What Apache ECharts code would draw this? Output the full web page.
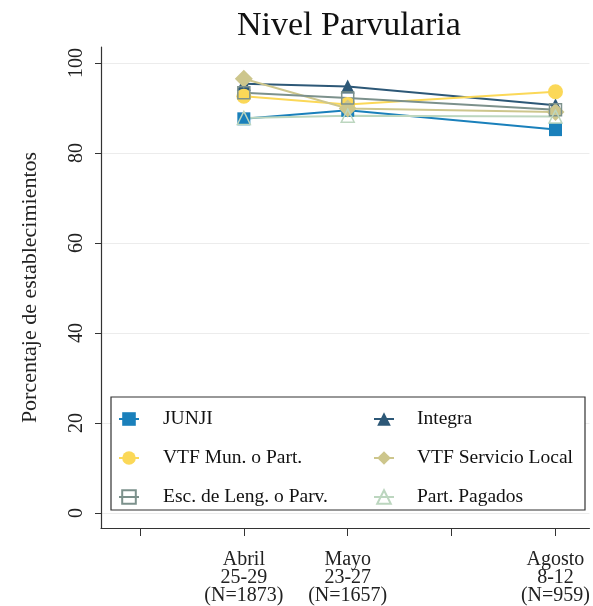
<!DOCTYPE html>
<html>
<head>
<meta charset="utf-8">
<script src="https://cdn.jsdelivr.net/npm/echarts@6/dist/echarts.min.js"></script>
<style>
  html, body { margin: 0; padding: 0; background: #fff; }
  #chart { width: 593px; height: 606px; }
</style>
</head>
<body>
<div id="chart"></div>
<script>
// posiciones de las rondas en el eje x
const waves = [1, 2, 4];
const waveLabels = ["Abril\n25-29\n(N=1873)", "Mayo\n23-27\n(N=1657)", "Agosto\n8-12\n(N=959)"];
const xTicks = [0, 1, 2, 3, 4];
const yTicks = [0, 20, 40, 60, 80, 100];

// porcentaje de establecimientos por dependencia
const junji = [87.6, 89.5, 85.2];
const integra = [95.4, 94.8, 90.6];
const vtfMun = [92.6, 90.8, 93.6];
const vtfServicio = [96.5, 89.9, 89.1];
const escLeng = [93.4, 92.2, 89.6];
const partPagados = [87.8, 88.3, 88.1];

const font = "Liberation Serif";
const chart = echarts.init(document.getElementById("chart"));

const pairs = vals => vals.map((v, i) => [waves[i], v]);

const makeSeries = (name, vals, color, symbol, size, hollow) => ({
  name: name,
  type: "line",
  data: pairs(vals),
  symbol: symbol,
  symbolSize: size,
  lineStyle: { color: color, width: 2 },
  itemStyle: hollow
    ? { color: "rgba(255,255,255,0)", borderColor: color, borderWidth: 1.5 }
    : { color: color },
  emphasis: { disabled: true }
});

const legendText = pad => ({
  fontFamily: font, fontSize: 19.5, color: "#111", lineHeight: 22, padding: [0, 0, 0, pad]
});

const option = {
  animation: false,
  title: {
    text: "Nivel Parvularia",
    left: 232,
    top: 4,
    textStyle: { fontFamily: font, fontSize: 34, fontWeight: "normal", color: "#111" }
  },
  grid: { left: 101, right: 3, top: 47, bottom: 78 },
  xAxis: {
    type: "value",
    min: -0.375,
    max: 4.327,
    axisLine: { show: true, onZero: false, lineStyle: { color: "#333", width: 1.2 } },
    axisTick: { show: true, customValues: xTicks, length: 8, lineStyle: { color: "#333" } },
    axisLabel: {
      customValues: waves,
      margin: 23,
      fontFamily: font,
      fontSize: 20,
      lineHeight: 18,
      color: "#222",
      formatter: v => waveLabels[waves.indexOf(v)]
    },
    splitLine: { show: false }
  },
  yAxis: {
    type: "value",
    min: -3.33,
    max: 103.56,
    name: "Porcentaje de establecimientos",
    nameLocation: "middle",
    nameGap: 60,
    nameTextStyle: { fontFamily: font, fontSize: 22, color: "#222" },
    axisLine: { show: true, onZero: false, lineStyle: { color: "#333", width: 1.2 } },
    axisTick: { show: true, customValues: yTicks, length: 6, lineStyle: { color: "#333" } },
    axisLabel: {
      customValues: yTicks,
      rotate: 90,
      margin: 14,
      fontFamily: font,
      fontSize: 20,
      color: "#222"
    },
    splitLine: { show: true, lineStyle: { color: "#ececec", width: 1 } }
  },
  legend: [
    {
      orient: "vertical",
      left: 118,
      top: 408,
      padding: 0,
      itemWidth: 20,
      itemHeight: 17,
      itemGap: 17,
      data: ["JUNJI", "VTF Mun. o Part.", "Esc. de Leng. o Parv."],
      textStyle: legendText(19)
    },
    {
      orient: "vertical",
      left: 373,
      top: 408,
      padding: 0,
      itemWidth: 20,
      itemHeight: 17,
      itemGap: 17,
      data: ["Integra", "VTF Servicio Local", "Part. Pagados"],
      textStyle: legendText(18)
    }
  ],
  graphic: [
    {
      type: "rect",
      shape: { x: 111, y: 397, width: 474, height: 113 },
      style: { fill: "#fff", stroke: "#333", lineWidth: 1.2 },
      z: 3
    }
  ],
  series: [
    makeSeries("JUNJI", junji, "#1a80bb", "rect", 13, false),
    makeSeries("Integra", integra, "#2d5877", "triangle", 14, false),
    makeSeries("VTF Mun. o Part.", vtfMun, "#fbd858", "circle", 15, false),
    makeSeries("VTF Servicio Local", vtfServicio, "#cdc68c", "diamond", 18, false),
    makeSeries("Esc. de Leng. o Parv.", escLeng, "#7c918c", "rect", 12, true),
    makeSeries("Part. Pagados", partPagados, "#bcd6bf", "triangle", 13, true)
  ]
};

chart.setOption(option);
</script>
</body>
</html>
